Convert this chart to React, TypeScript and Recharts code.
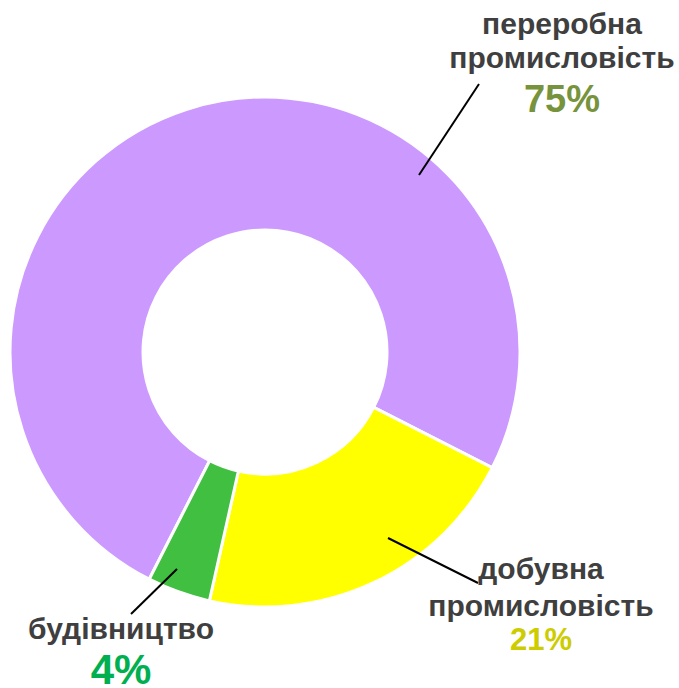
import React from "react";
import { PieChart, Pie, Cell } from "recharts";

const categories = ["переробна промисловість", "добувна промисловість", "будівництво"];
const nameLines = [["переробна", "промисловість"], ["добувна", "промисловість"], ["будівництво"]];
const shares = [75, 21, 4];
const percentLabels = ["75%", "21%", "4%"];

const sliceColors = ["#CC99FF", "#FFFF00", "#40BF40"];
const pctColors = ["#77933C", "#CCCC00", "#00B050"];

// label layout relative to pie centre: line start, line end, text centre x, baselines, pct font size
const labelLayout = [
  { sx: 154, sy: -177, ex: 214, ey: -268, tx: 297, base: [-318, -284, -240], pctSize: 38 },
  { sx: 123, sy: 186, ex: 213, ey: 231, tx: 276, base: [227, 264, 298], pctSize: 31 },
  { sx: -88, sy: 217, ex: -134, ey: 262, tx: -144, base: [287, 332], pctSize: 42 },
];

const data = categories.map((name, i) => ({ name, value: shares[i] }));

const renderLabel = (props: any) => {
  const { cx, cy, index } = props;
  const L = labelLayout[index];
  const lines = nameLines[index];
  return (
    <g>
      <line x1={cx + L.sx} y1={cy + L.sy} x2={cx + L.ex} y2={cy + L.ey} stroke="#000" strokeWidth={2} />
      {lines.map((t, j) => (
        <text key={j} x={cx + L.tx} y={cy + L.base[j]} textAnchor="middle" fill="#3F3F3F"
          fontFamily="'Liberation Sans', Arial, sans-serif" fontWeight="bold" fontSize={30}>{t}</text>
      ))}
      <text x={cx + L.tx} y={cy + L.base[lines.length]} textAnchor="middle" fill={pctColors[index]}
        fontFamily="'Liberation Sans', Arial, sans-serif" fontWeight="bold" fontSize={L.pctSize}>{percentLabels[index]}</text>
    </g>
  );
};

export default function App() {
  return (
    <div style={{ position: "absolute", left: 0, top: 0, width: 679, height: 688, background: "#fff" }}>
      <PieChart width={679} height={688} margin={{ top: 0, right: 0, bottom: 0, left: 0 }}>
        <Pie
          data={data}
          dataKey="value"
          nameKey="name"
          cx={265}
          cy={352}
          innerRadius={122}
          outerRadius={255}
          startAngle={243}
          endAngle={-117}
          stroke="#FFFFFF"
          strokeWidth={3}
          label={renderLabel}
          labelLine={false}
          isAnimationActive={false}
        >
          {data.map((d, i) => (
            <Cell key={d.name} fill={sliceColors[i]} />
          ))}
        </Pie>
      </PieChart>
    </div>
  );
}
